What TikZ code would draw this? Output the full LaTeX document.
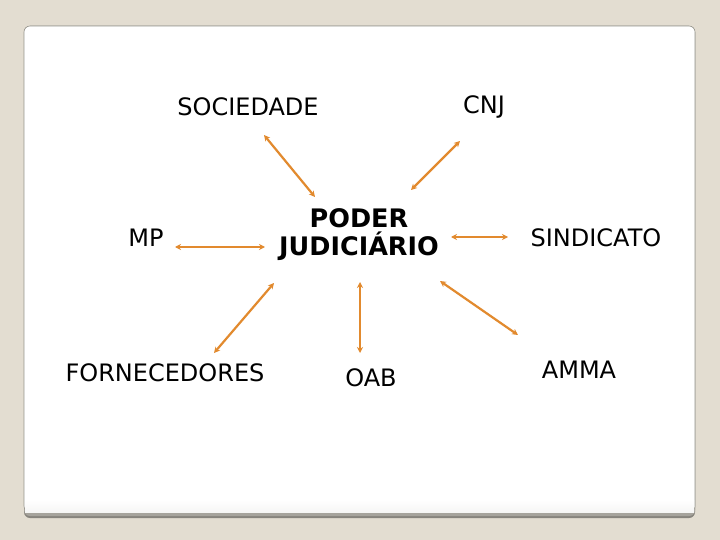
\documentclass[tikz,border=0pt]{standalone}
\usepackage{fontspec}
\setmainfont{DejaVu Sans}
\usetikzlibrary{arrows.meta}
\definecolor{bgc}{RGB}{227,221,209}
\definecolor{edgec}{RGB}{150,148,140}
\definecolor{shadowc}{RGB}{166,163,156}
\definecolor{shadowd}{RGB}{135,132,125}
\definecolor{arrc}{RGB}{226,138,46}
\tikzset{
  lbl/.style={font=\fontsize{24}{28}\selectfont, inner sep=0pt, anchor=center},
  conn/.style={arrc, line width=2.2pt, {Stealth[length=6pt,width=6pt]}-{Stealth[length=6pt,width=6pt]}},
}
\begin{document}
\begin{tikzpicture}[x=1pt,y=-1pt]
\useasboundingbox (0,0) rectangle (720,540);
\fill[bgc] (0,0) rectangle (720,540);
% panel shadow
\fill[shadowd, rounded corners=6pt] (24,26) rectangle (695,518);
\fill[shadowc, rounded corners=6pt] (24,26) rectangle (695,516);
\fill[white, rounded corners=6pt, draw=edgec, line width=0.6pt] (24,26) rectangle (695,512);
\shade[top color=white, bottom color=white!90!shadowc] (25,500) rectangle (694,512);
% labels
\node[lbl] (soc) at (248,107) {SOCIEDADE};
\node[lbl] (cnj) at (484,107) {CNJ};
\node[lbl] (mp) at (146,238) {MP};
\node[lbl] (sind) at (596,238) {SINDICATO};
\node[lbl] (forn) at (165,373) {FORNECEDORES};
\node[lbl] (oab) at (371,378) {OAB};
\node[lbl] (amma) at (579,370) {AMMA};
\node[font=\fontsize{25.5}{28}\selectfont\bfseries, align=center, inner sep=0pt] (pj) at (359,235) {PODER\\JUDICIÁRIO};
% connector ends
\coordinate (s1) at (264,135); \coordinate (s2) at (315,197);
\coordinate (c1) at (460,141); \coordinate (c2) at (411,190);
\coordinate (m1) at (175,247); \coordinate (m2) at (265,247);
\coordinate (d1) at (451,237); \coordinate (d2) at (508,237);
\coordinate (f1) at (274,283); \coordinate (f2) at (214,353);
\coordinate (o1) at (360,282); \coordinate (o2) at (360,353);
\coordinate (a1) at (440,281); \coordinate (a2) at (518,335);
\draw[conn] (s1) -- (s2);
\draw[conn] (c1) -- (c2);
\draw[conn] (m1) -- (m2);
\draw[conn] (d1) -- (d2);
\draw[conn] (f1) -- (f2);
\draw[conn] (o1) -- (o2);
\draw[conn] (a1) -- (a2);
\end{tikzpicture}
\end{document}
